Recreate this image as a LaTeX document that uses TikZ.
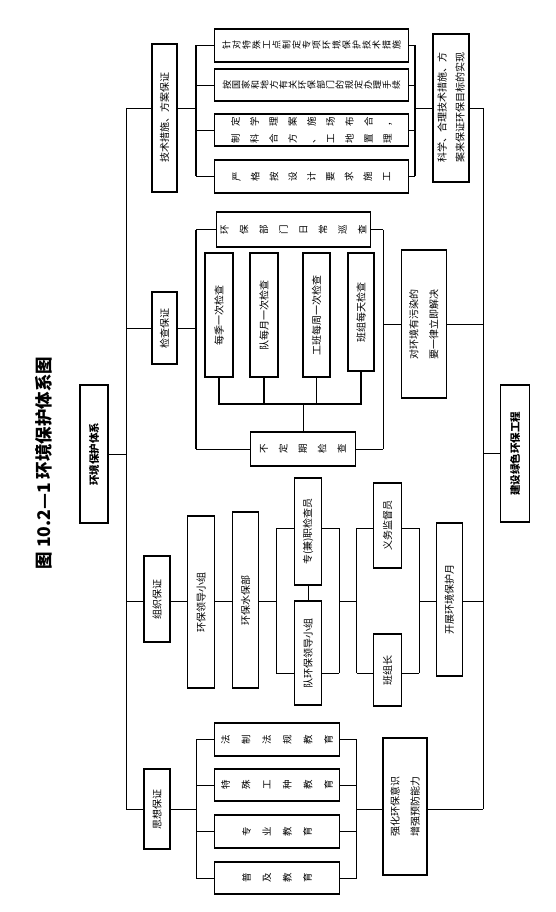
\documentclass[tikz,border=0pt]{standalone}
\usepackage{fontspec}
\usepackage{tikz}
\usetikzlibrary{positioning,calc}
\newfontfamily\cjk{Noto Sans CJK SC}
\newcommand\pr[2]{#1\hspace{8pt}#2}

\tikzset{
  vbox/.style={draw, fill=white, rotate=90, line width=1.1pt, inner sep=1pt, align=center, font=\cjk\fontsize{10}{19}\selectfont},
  cols/.style={font=\cjk\fontsize{9.5}{#1}\selectfont},
  headbox/.style={font=\cjk\bfseries\fontsize{10.5}{12}\selectfont},
  link/.style={line width=.7pt},
  heavy/.style={line width=1.3pt},
}

\begin{document}
\begin{tikzpicture}[x=1pt,y=-1pt]
  \useasboundingbox (0,0) rectangle (555,912);

  \node[rotate=90, font=\cjk\bfseries\fontsize{17.5}{20}\selectfont] (title) at (44,463) {图 10.2—1 环境保护体系图};

  \node[vbox, headbox, minimum width=138, minimum height=28] (sys) at (94,454) {环境保护体系};
  \node[vbox, headbox, minimum width=137, minimum height=29] (goal) at (515,453.5) {建设绿色环保工程};

  % technique
  \node[vbox, minimum width=148, minimum height=25] (tech) at (164.5,118) {技术措施、方案保证};
  \node[vbox, cols=10, font=\cjk\fontsize{9}{10}\selectfont, minimum width=33, minimum height=194] (t1) at (311.5,45.5) {针\\对\\特\\殊\\工\\点\\制\\定\\专\\项\\环\\境\\保\\护\\技\\术\\措\\施};
  \node[vbox, font=\cjk\fontsize{9}{9.4}\selectfont, minimum width=32, minimum height=194] (t2) at (311.5,85) {按\\国\\家\\和\\地\\方\\有\\关\\环\\保\\部\\门\\的\\规\\定\\办\\理\\手\\续};
  \node[vbox, cols=19, minimum width=32, minimum height=194] (t3) at (311.5,130) {\pr{制}{定}\\\pr{科}{学}\\\pr{合}{理}\\\pr{方}{案}\\\pr{、}{施}\\\pr{工}{场}\\\pr{地}{布}\\\pr{置}{合}\\\pr{理}{，}};
  \node[vbox, cols=18.75, minimum width=33, minimum height=194] (t4) at (311.5,176.5) {严\\格\\按\\设\\计\\要\\求\\施\\工};
  \node[vbox, font=\cjk\fontsize{10}{18}\selectfont, minimum width=148, minimum height=36] (means) at (451,108) {科学、合理技术措施、方\\案来保证环保目标的实现};

  % check
  \node[vbox, minimum width=72, minimum height=25] (check) at (164.5,328) {检查保证};
  \node[vbox, cols=19.7, minimum width=35, minimum height=154] (patrol) at (293.5,229.5) {环\\保\\部\\门\\日\\常\\巡\\查};
  \node[vbox, minimum width=124, minimum height=28] (q1) at (219,315) {每季一次检查};
  \node[vbox, minimum width=124, minimum height=28] (q2) at (264,315) {队每月一次检查};
  \node[vbox, minimum width=124, minimum height=27] (q3) at (316.5,315) {工班每周一次检查};
  \node[vbox, minimum width=118, minimum height=26] (q4) at (361,312) {班组每天检查};
  \node[vbox, cols=19.5, minimum width=34, minimum height=105] (irreg) at (303,449) {不\\定\\期\\检\\查};
  \node[vbox, font=\cjk\fontsize{10}{20}\selectfont, minimum width=148, minimum height=45] (solve) at (423.7,324) {对环境有污染的\\要一律立即解决};

  % organisation
  \node[vbox, minimum width=86, minimum height=26] (org) at (157,599) {组织保证};
  \node[vbox, minimum width=172, minimum height=26.5] (lead) at (201,602) {环保领导小组};
  \node[vbox, minimum width=176, minimum height=25.6] (dept) at (245.5,600) {环保水保部};
  \node[vbox, minimum width=107, minimum height=26.7] (insp) at (308,531.5) {专(兼)职检查员};
  \node[vbox, minimum width=104, minimum height=26.7] (team) at (308,653) {队环保领导小组};
  \node[vbox, minimum width=85, minimum height=27.7] (volun) at (387.5,525.5) {义务监督员};
  \node[vbox, minimum width=72, minimum height=27.7] (grp) at (387.5,670) {班组长};
  \node[vbox, minimum width=153, minimum height=25.6] (month) at (449.4,599.5) {开展环境保护月};

  % education
  \node[vbox, minimum width=80, minimum height=26] (mind) at (157,809) {思想保证};
  \node[vbox, cols=20.6, minimum width=33, minimum height=125] (s1) at (277,739.5) {法\\制\\法\\规\\教\\育};
  \node[vbox, cols=20.6, minimum width=32, minimum height=125] (s2) at (277,785) {特\\殊\\工\\种\\教\\育};
  \node[vbox, cols=20.3, minimum width=33, minimum height=125] (s3) at (277,831.5) {专\\业\\教\\育};
  \node[vbox, cols=20.3, minimum width=32, minimum height=125] (s4) at (277,878) {普\\及\\教\\育};
  \node[vbox, font=\cjk\fontsize{10}{20}\selectfont, minimum width=137, minimum height=44] (aware) at (405,806.5) {强化环保意识\\增强预防能力};

  % trunks
  \coordinate (L1) at (126,108); \coordinate (L2) at (126,328);
  \coordinate (L3) at (126,601); \coordinate (L4) at (126,809);
  \coordinate (R1) at (483,108); \coordinate (R4) at (483,809);
  \draw[link] (L1) -- (L4);
  \draw[link] (R1) -- (R4);
  \draw[link] (sys.south) -- (sys.south -| L1);
  \draw[link] (goal.north) -- (goal.north -| R1);

  \coordinate (a1) at (196,45.5); \coordinate (a2) at (196,176.5);
  \coordinate (b1) at (415,45.5); \coordinate (b2) at (415,176.5);
  \draw[heavy] (a1) -- (a2);
  \draw[heavy] (b1) -- (b2);
  \draw[link] (L1) -- (tech.north |- L1);
  \draw[link] (tech.south |- L1) -- (L1 -| a1);
  \foreach \n in {t1,t2,t3,t4} {
    \draw[link] (\n.north) -- (\n.north -| a1);
    \draw[link] (\n.south) -- (\n.south -| b1);
  }
  \draw[link] (L1 -| b1) -- (means.north |- L1);
  \draw[link] (means.south |- L1) -- (R1);

  \coordinate (c1) at (196,229.5); \coordinate (c2) at (196,449);
  \coordinate (d1) at (383,229.5); \coordinate (d2) at (383,449);
  \coordinate (bar) at (303,404);
  \draw[heavy] (c1) -- (c2);
  \draw[link] (d1) -- (d2);
  \draw[link] (L2) -- (check.north);
  \draw[link] (check.south) -- (check.south -| c1);
  \draw[link] (patrol.north) -- (patrol.north -| c1);
  \draw[link] (patrol.south) -- (patrol.south -| d1);
  \draw[link] (irreg.north) -- (irreg.north -| c1);
  \draw[link] (irreg.south) -- (irreg.south -| d1);
  \foreach \n in {q1,q2,q3,q4}
    \draw[heavy] (\n.west) |- (bar);
  \draw[link] (bar) -- (irreg.east);
  \draw[link] (solve.north -| d1) -- (solve.north);
  \draw[link] (solve.south) -- (solve.south -| R1);

  \coordinate (e1) at (276.4,528); \coordinate (e2) at (276.4,673);
  \coordinate (f1) at (339.4,528); \coordinate (f2) at (339.4,673);
  \coordinate (g1) at (356.5,528); \coordinate (g2) at (356.5,673);
  \coordinate (h1) at (419.4,528); \coordinate (h2) at (419.4,673);
  \draw[heavy] (e1) -- (e2);
  \draw[heavy] (f1) -- (f2);
  \draw[link] (g1) -- (g2);
  \draw[heavy] (h1) -- (h2);
  \draw[link] (L3) -- (org.north |- L3);
  \draw[link] (org.south |- L3) -- (lead.north |- L3);
  \draw[link] (lead.south |- L3) -- (dept.north |- L3);
  \draw[link] (dept.south |- L3) -- (L3 -| e1);
  \draw[link] (e1) -- (insp.north |- e1);
  \draw[link] (e2) -- (team.north |- e2);
  \draw[link] (insp.west) -- (team.east);
  \draw[link] (insp.south |- f1) -- (f1);
  \draw[link] (team.south |- f2) -- (f2);
  \draw[link] (L3 -| f1) -- (L3 -| g1);
  \draw[link] (g1) -- (volun.north |- g1);
  \draw[link] (g2) -- (grp.north |- g2);
  \draw[link] (volun.south |- h1) -- (h1);
  \draw[link] (grp.south |- h2) -- (h2);
  \draw[link] (L3 -| h1) -- (month.north |- L3);
  \draw[link] (month.south |- L3) -- (L3 -| R1);

  \coordinate (m1) at (196,739.5); \coordinate (m2) at (196,878);
  \coordinate (n1) at (356.5,739.5); \coordinate (n2) at (356.5,878);
  \draw[link] (m1) -- (m2);
  \draw[link] (n1) -- (n2);
  \draw[link] (L4) -- (mind.north |- L4);
  \draw[link] (mind.south |- L4) -- (L4 -| m1);
  \foreach \n in {s1,s2,s3,s4} {
    \draw[link] (\n.north) -- (\n.north -| m1);
    \draw[link] (\n.south) -- (\n.south -| n1);
  }
  \draw[link] (L4 -| n1) -- (aware.north |- L4);
  \draw[link] (aware.south |- L4) -- (L4 -| R1);
\end{tikzpicture}
\end{document}
